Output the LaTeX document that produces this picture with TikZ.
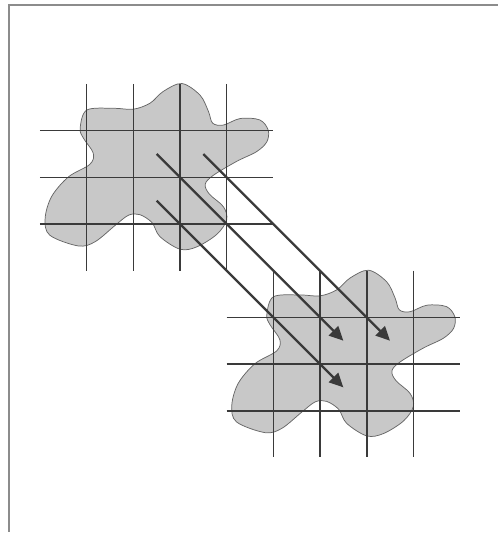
\documentclass[tikz,border=0pt]{standalone}
\usetikzlibrary{arrows.meta, positioning}

\definecolor{blobgray}{HTML}{C8C8C8}
\definecolor{linegray}{HTML}{3A3A3A}
\definecolor{framegray}{HTML}{8C8C8C}

\tikzset{
    blob/.style={fill=blobgray, draw=gray!80!black, line width=0.45pt},
    gridline/.style={draw=linegray, line width=1pt},
    maparrow/.style={draw=linegray, line width=1.4pt, -{Triangle[length=3mm,width=2.8mm]}},
    frameline/.style={draw=framegray, line width=1.2pt}
}

% outline of the region (grid units, origin at the top-left grid corner)
\newcommand{\blobshape}{plot[smooth cycle, tension=0.55] coordinates {
    (3.04,0.01) (3.43,-0.24) (3.61,-0.59) (3.70,-0.84) (3.93,-0.88)
    (4.29,-0.74) (4.71,-0.77) (4.89,-0.99) (4.86,-1.24) (4.64,-1.45)
    (4.21,-1.66) (3.71,-1.96) (3.54,-2.15) (3.63,-2.36) (3.93,-2.63)
    (4.00,-2.91) (3.79,-3.22) (3.36,-3.49) (3.00,-3.54) (2.57,-3.27)
    (2.40,-2.97) (2.14,-2.80) (1.90,-2.81) (1.61,-3.03) (1.18,-3.38)
    (0.82,-3.47) (0.21,-3.24) (0.11,-2.88) (0.25,-2.41) (0.61,-1.99)
    (1.07,-1.72) (1.14,-1.48) (0.93,-1.16) (0.86,-0.95) (1.00,-0.56)
    (1.57,-0.52) (2.00,-0.54) (2.36,-0.41) (2.64,-0.16)}}

\begin{document}
\begin{tikzpicture}
    % Page margins
    \useasboundingbox (-0.857,1.8) rectangle (9.814,-9.621);

    % Frame (top and left edges only)
    \coordinate (TL) at (-0.664,1.693);
    \coordinate (TR) at (9.814,1.693);
    \coordinate (BL) at (-0.664,-9.6);
    \draw[frameline] (TR) -- (TL) -- (BL);

    % Source region and its grid
    \filldraw[blob] \blobshape;
    \foreach \i in {1,...,4}
        \draw[gridline] (\i,0) -- (\i,-4);
    \foreach \j in {1,...,3}
        \draw[gridline] (0,-\j) -- (5,-\j);

    % Target region and its grid
    \begin{scope}[shift={(4,-4)}]
        \filldraw[blob] \blobshape;
        \foreach \i in {1,...,4}
            \draw[gridline] (\i,0) -- (\i,-4);
        \foreach \j in {1,...,3}
            \draw[gridline] (0,-\j) -- (5,-\j);
    \end{scope}

    % Start and end points of the mapping
    \coordinate (P1) at (2.5,-1.5);
    \coordinate (P2) at (3.5,-1.5);
    \coordinate (P3) at (2.5,-2.5);
    \coordinate (Q1) at (6.5,-5.5);
    \coordinate (Q2) at (7.5,-5.5);
    \coordinate (Q3) at (6.5,-6.5);

    % Draw the arrows
    \draw[maparrow] (P1) -- (Q1);
    \draw[maparrow] (P2) -- (Q2);
    \draw[maparrow] (P3) -- (Q3);

\end{tikzpicture}
\end{document}
